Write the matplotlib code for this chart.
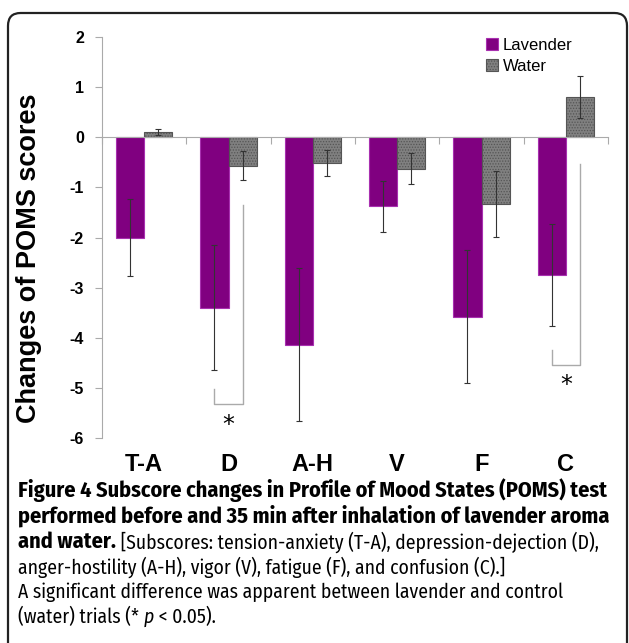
import numpy as np
import matplotlib.pyplot as plt
from matplotlib.patches import FancyBboxPatch

cats = ["T-A", "D", "A-H", "V", "F", "C"]
lav = [-2.0, -3.4, -4.14, -1.38, -3.58, -2.75]
lav_err = [0.76, 1.25, 1.53, 0.51, 1.33, 1.02]
wat = [0.11, -0.57, -0.52, -0.63, -1.33, 0.80]
wat_err = [0.06, 0.29, 0.26, 0.31, 0.66, 0.42]

# brackets: (group, top of right leg, top of left leg, bottom, star y)
sig = [(1, -1.35, -5.02, -5.32, -5.75), (5, -0.53, -4.24, -4.54, -4.95)]

plt.rcParams["hatch.color"] = "#555555"
plt.rcParams["hatch.linewidth"] = 0.6

W, H = 629, 643
fig = plt.figure(figsize=(W / 100, H / 100), dpi=100)
ax = fig.add_axes([102 / W, 1 - 438 / H, 506 / W, 401 / H])

x = np.arange(len(cats)) + 0.5
bw = 0.333
ax.bar(x - bw / 2, lav, bw, color="#800080", edgecolor="#a830b0", lw=0.8,
       label="Lavender", zorder=2)
ax.bar(x + bw / 2, wat, bw, color="#808080", edgecolor="#555555", lw=0.8,
       hatch="......", label="Water", zorder=2)
ax.errorbar(x - bw / 2, lav, yerr=lav_err, fmt="none", ecolor="#333333",
            elinewidth=0.8, capsize=2, capthick=0.8, zorder=3)
ax.errorbar(x + bw / 2, wat, yerr=wat_err, fmt="none", ecolor="#333333",
            elinewidth=0.8, capsize=2, capthick=0.8, zorder=3)

for g, rt, lt, bot, sy in sig:
    xl = x[g] - bw / 2
    xr = x[g] + bw / 2
    ax.plot([xr, xr, xl, xl], [rt, bot, bot, lt], color="#aaaaaa", lw=1.0)
    ax.text(x[g], sy, "*", ha="center", va="center", fontsize=17,
            family="DejaVu Sans")

ax.set_xlim(0, 6)
ax.set_ylim(-6, 2)
ax.set_yticks(range(-6, 3))
ax.set_yticklabels([str(v) for v in range(-6, 3)], fontsize=11.5,
                   fontweight="bold", family="Liberation Sans")
ax.set_xticks(range(0, 7))
ax.set_xticklabels([])
for s in ["top", "right"]:
    ax.spines[s].set_visible(False)
ax.spines["bottom"].set_position(("data", 0))
ax.spines["bottom"].set_color("#aaaaaa")
ax.spines["left"].set_color("#aaaaaa")
ax.tick_params(axis="both", direction="out", length=5, color="#aaaaaa",
               width=0.8)
ax.tick_params(axis="y", pad=8)

for xi, c in zip(x, cats):
    ax.text(xi, -6.53, c, ha="center", va="center", fontsize=17,
            fontweight="bold", family="Liberation Sans")

fig.text(29 / W, 1 - 258 / H, "Changes of POMS scores", rotation=90,
         ha="center", va="center", fontsize=19.5, fontweight="bold",
         family="Liberation Sans")

leg = ax.legend(loc="upper left", bbox_to_anchor=(0.73, 1.035), frameon=False,
                prop={"family": "Liberation Sans", "size": 12},
                handlelength=0.7, handleheight=0.7, handletextpad=0.3,
                labelspacing=0.35)

# caption
cf = "Fira Sans Condensed"
r = fig.canvas.get_renderer()
line1 = "Figure 4 Subscore changes in Profile of Mood States (POMS) test"
line5 = "A significant difference was apparent between lavender and control"


def fit(s, width, **kw):
    t = fig.text(0, 0, s, family=cf, fontsize=13, **kw)
    w = t.get_window_extent(renderer=r).width
    t.remove()
    return 13 * width / w


fsb = fit(line1, 590, fontweight="bold")
fsr = fit(line5, 546)
ys = [490, 516, 542, 567, 592, 617]


def put(px, py, s, bold=False, **kw):
    t = fig.text(px / W, 1 - py / H, s, va="center", ha="left", family=cf,
                 fontsize=fsb if bold else fsr,
                 fontweight="bold" if bold else "normal", **kw)
    bb = t.get_window_extent(renderer=r)
    return px + bb.width


put(18, ys[0], line1, bold=True)
put(18, ys[1], "performed before and 35 min after inhalation of lavender aroma",
    bold=True)
nx = put(18, ys[2], "and water.", bold=True)
put(nx, ys[2], " [Subscores: tension-anxiety (T-A), depression-dejection (D),")
put(18, ys[3], "anger-hostility (A-H), vigor (V), fatigue (F), and confusion (C).]")
put(18, ys[4], line5)
nx = put(18, ys[5], "(water) trials (* ")
nx = put(nx, ys[5], "p", style="italic")
put(nx, ys[5], " < 0.05).")

box = FancyBboxPatch((8 / W, -20 / H), 619 / W, (H - 13 + 20) / H,
                     boxstyle="round,pad=0,rounding_size=0.02",
                     transform=fig.transFigure, fill=False, lw=1.6,
                     edgecolor="#222222")
fig.patches.append(box)

fig.savefig("out.png", dpi=100)
